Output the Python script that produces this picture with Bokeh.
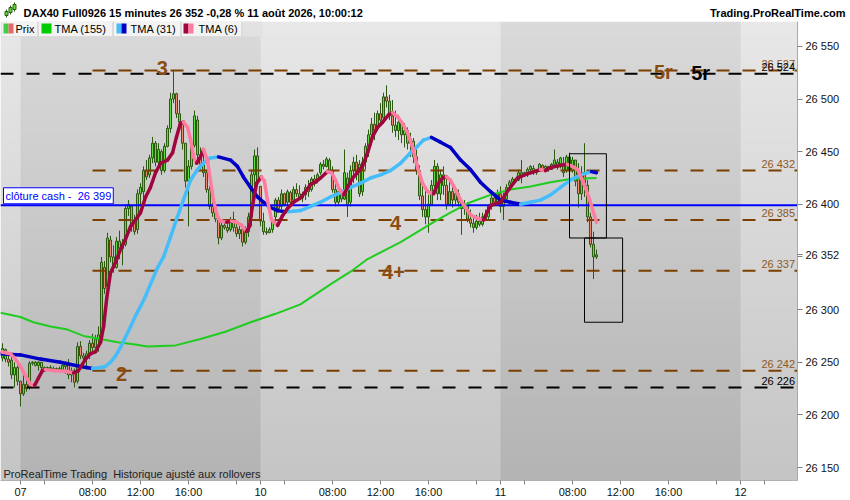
import numpy as np
from bokeh.plotting import figure
from bokeh.layouts import column
from bokeh.models import Range1d, FixedTicker, Label, BoxAnnotation
from bokeh.core.properties import value
from bokeh.embed import file_html
from bokeh.resources import INLINE

FONT = "Liberation Sans"

# 15 minute bars, bar 0 = Fri 07 Aug 02:00, one session = 80 bars
bar_start = -6
high = [26268, 26263, 26258, 26255, 26250, 26247,
        26232, 26240, 26236, 26251, 26251, 26251, 26251, 26250, 26246, 26246,
        26247, 26246, 26245, 26246, 26248, 26251, 26253, 26245, 26244, 26269,
        26270, 26259, 26261, 26271, 26277, 26276, 26284, 26350, 26346, 26373,
        26370, 26361, 26369, 26375, 26367, 26400, 26404, 26399, 26390, 26414,
        26420, 26436, 26442, 26447, 26464, 26460, 26458, 26452, 26458, 26475,
        26506, 26527, 26506, 26499, 26478, 26458, 26442, 26458, 26489, 26484,
        26454, 26449, 26433, 26417, 26404, 26398, 26387, 26385, 26383, 26385,
        26388, 26393, 26385, 26381, 26376, 26379, 26392, 26433, 26452, 26454,
        26417, 26392, 26378, 26378, 26385, 26406, 26407, 26414, 26411, 26414,
        26413, 26417, 26420, 26418, 26412, 26419, 26423, 26426, 26428, 26430,
        26440, 26442, 26445, 26444, 26436, 26423, 26419, 26414, 26452, 26430,
        26437, 26445, 26447, 26442, 26445, 26458, 26471, 26482, 26487, 26489,
        26496, 26506, 26513, 26504, 26499, 26489, 26485, 26480, 26477, 26473,
        26468, 26463, 26452, 26437, 26423, 26414, 26409, 26423, 26442, 26439,
        26433, 26436, 26428, 26423, 26419, 26416, 26414, 26404, 26404, 26402,
        26395, 26388, 26390, 26392, 26392, 26395, 26400, 26409, 26411, 26414,
        26417, 26411, 26419, 26423, 26426, 26425, 26433, 26442, 26431, 26435,
        26437, 26437, 26433, 26439, 26438, 26437, 26436, 26439, 26452, 26443,
        26445, 26445, 26447, 26449, 26445, 26442, 26439, 26436, 26458, 26423,
        26392, 26374, 26357]
low = [26251, 26250, 26246, 26234, 26226, 26228,
       26208, 26218, 26222, 26224, 26247, 26246, 26242, 26243, 26242, 26242,
       26243, 26242, 26241, 26242, 26242, 26239, 26234, 26231, 26226, 26230,
       26253, 26251, 26243, 26253, 26260, 26263, 26260, 26276, 26315, 26318,
       26345, 26335, 26339, 26348, 26342, 26360, 26389, 26374, 26371, 26372,
       26398, 26404, 26423, 26425, 26439, 26436, 26438, 26428, 26430, 26454,
       26468, 26496, 26482, 26473, 26452, 26416, 26379, 26433, 26454, 26442,
       26433, 26426, 26411, 26395, 26388, 26383, 26362, 26366, 26376, 26373,
       26374, 26374, 26369, 26367, 26360, 26362, 26369, 26379, 26411, 26417,
       26379, 26371, 26371, 26373, 26373, 26383, 26392, 26395, 26398, 26399,
       26398, 26401, 26407, 26405, 26402, 26404, 26407, 26412, 26417, 26420,
       26428, 26433, 26435, 26430, 26411, 26398, 26400, 26402, 26404, 26388,
       26398, 26420, 26423, 26407, 26408, 26433, 26445, 26456, 26461, 26470,
       26475, 26480, 26492, 26480, 26468, 26464, 26461, 26458, 26454, 26452,
       26445, 26439, 26428, 26404, 26388, 26381, 26373, 26400, 26414, 26404,
       26404, 26409, 26395, 26400, 26397, 26400, 26398, 26371, 26390, 26383,
       26378, 26373, 26376, 26379, 26379, 26384, 26385, 26395, 26398, 26400,
       26392, 26385, 26404, 26416, 26420, 26421, 26422, 26420, 26426, 26426,
       26430, 26428, 26428, 26431, 26433, 26431, 26431, 26433, 26436, 26433,
       26434, 26426, 26430, 26426, 26430, 26417, 26397, 26404, 26407, 26383,
       26359, 26329, 26348]
opn = [26254, 26262, 26253, 26252, 26238, 26245,
       26232, 26220, 26229, 26226, 26249, 26250, 26247, 26250, 26245, 26244,
       26245, 26244, 26243, 26244, 26243, 26246, 26249, 26238, 26242, 26232,
       26265, 26256, 26254, 26258, 26268, 26264, 26272, 26276, 26340, 26322,
       26366, 26350, 26340, 26365, 26358, 26362, 26396, 26398, 26382, 26376,
       26410, 26412, 26432, 26428, 26444, 26458, 26440, 26450, 26432, 26455,
       26472, 26500, 26505, 26486, 26476, 26458, 26422, 26436, 26456, 26480,
       26447, 26438, 26430, 26414, 26398, 26392, 26385, 26368, 26380, 26378,
       26376, 26385, 26378, 26372, 26376, 26364, 26374, 26388, 26428, 26446,
       26417, 26384, 26374, 26373, 26376, 26388, 26404, 26398, 26410, 26402,
       26411, 26404, 26414, 26410, 26406, 26409, 26416, 26414, 26424, 26422,
       26430, 26438, 26436, 26442, 26432, 26414, 26402, 26412, 26405, 26425,
       26402, 26432, 26440, 26438, 26412, 26440, 26455, 26466, 26476, 26472,
       26486, 26482, 26502, 26498, 26484, 26475, 26470, 26478, 26466, 26470,
       26458, 26460, 26445, 26432, 26408, 26395, 26388, 26400, 26418, 26436,
       26410, 26428, 26418, 26400, 26412, 26404, 26410, 26402, 26396, 26400,
       26386, 26382, 26378, 26384, 26381, 26388, 26388, 26398, 26406, 26402,
       26410, 26398, 26405, 26418, 26421, 26424, 26423, 26430, 26427, 26430,
       26433, 26434, 26430, 26433, 26437, 26434, 26436, 26433, 26438, 26440,
       26437, 26438, 26432, 26445, 26432, 26442, 26432, 26410, 26430, 26418,
       26388, 26362, 26350]
close = [26263, 26253, 26250, 26238, 26245, 26232,
         26220, 26229, 26225, 26249, 26250, 26247, 26250, 26245, 26244, 26245,
         26244, 26243, 26244, 26243, 26247, 26249, 26238, 26242, 26231, 26265,
         26256, 26254, 26258, 26268, 26264, 26272, 26276, 26345, 26320, 26368,
         26350, 26340, 26365, 26358, 26362, 26396, 26400, 26380, 26374, 26410,
         26416, 26432, 26426, 26444, 26458, 26440, 26452, 26432, 26455, 26472,
         26500, 26505, 26486, 26478, 26458, 26422, 26436, 26455, 26484, 26447,
         26438, 26430, 26414, 26398, 26392, 26386, 26368, 26380, 26378, 26375,
         26385, 26378, 26372, 26376, 26364, 26374, 26388, 26428, 26446, 26422,
         26384, 26374, 26373, 26376, 26384, 26404, 26396, 26410, 26400, 26412,
         26402, 26414, 26410, 26406, 26409, 26416, 26412, 26424, 26420, 26428,
         26438, 26436, 26443, 26432, 26414, 26402, 26412, 26405, 26430, 26400,
         26432, 26440, 26430, 26410, 26440, 26455, 26466, 26476, 26470, 26486,
         26480, 26502, 26498, 26484, 26475, 26470, 26478, 26466, 26470, 26458,
         26462, 26445, 26432, 26408, 26395, 26388, 26400, 26418, 26436, 26410,
         26428, 26418, 26400, 26412, 26404, 26410, 26402, 26396, 26400, 26386,
         26382, 26378, 26384, 26381, 26388, 26386, 26398, 26406, 26402, 26410,
         26398, 26405, 26416, 26421, 26424, 26422, 26430, 26426, 26430, 26433,
         26436, 26430, 26432, 26438, 26434, 26436, 26433, 26438, 26442, 26435,
         26444, 26430, 26445, 26432, 26442, 26422, 26410, 26430, 26418, 26388,
         26362, 26350, 26352]
bars = list(range(bar_start, bar_start + len(close)))

# indicators (bar position, value)
tma6_x = [-6.7, -3.3, -1.7, 0, 1.7, 3.3, 4.7, 6, 7.3, 8.3, 11.7, 15, 17.7, 19.3, 21.7, 23.3, 25,
          26.7, 27.7, 28.7, 30, 31.7, 33.3, 35, 36.7, 38.3, 40, 41.7, 43.3, 45, 46.7, 49, 50.7,
          52, 53.3, 54.3, 55.7, 56.7, 57.7, 58.7, 60, 61, 62.3, 63.3, 64.3, 65.7, 66.7, 68.7,
          70.3, 72, 73.7, 75.3, 76.3, 77.3, 78.7, 80.3, 81.3, 82.3, 83.7, 85.7, 87.3, 89, 91,
          93.3, 95, 96.7, 98.3, 100, 102.3, 103.7, 105, 106.3, 107.7, 109, 110.7, 112.3, 114,
          115.7, 117.3, 119, 120.7, 122.7, 124, 125.7, 127.3, 129, 130.7, 132.3, 134, 135.7,
          137.7, 139, 140.7, 142, 143.3, 145, 146.7, 148.3, 150, 152, 154.3, 156.7, 160, 162.7,
          165.7, 169, 173.3, 175, 176.7, 180, 182.3, 184, 185.7, 187.7, 189.3, 190.7, 192]
tma6_y = [26260, 26258, 26253, 26246, 26237, 26229, 26228, 26235, 26242, 26243, 26242, 26241.5,
          26240, 26242, 26253, 26258, 26260, 26269, 26284, 26310, 26335, 26345, 26357, 26367,
          26379, 26385, 26392, 26407, 26416, 26430, 26439, 26442, 26449, 26464, 26477, 26478,
          26473, 26461, 26445, 26439, 26445, 26452, 26442, 26423, 26404, 26388, 26384, 26383,
          26384, 26383, 26380, 26374, 26379, 26398, 26420, 26426, 26422, 26404, 26385, 26380,
          26389, 26396, 26402, 26406, 26412, 26419, 26421, 26425, 26431, 26430, 26423, 26414,
          26409, 26416, 26425, 26430, 26436, 26449, 26464, 26473, 26478, 26485, 26487, 26483,
          26477, 26468, 26454, 26436, 26420, 26412, 26410, 26419, 26425, 26426, 26423, 26414,
          26404, 26397, 26390, 26387, 26385, 26399, 26402, 26414, 26425, 26429, 26433, 26432,
          26435, 26437, 26438, 26436, 26433, 26420, 26408, 26395, 26383]
tma31_x = [-6.7, 0, 6.7, 13.3, 20, 24, 26.7, 28.3, 30, 31.7, 33.3, 35, 36.7, 38.3, 40, 41.7,
           43.3, 45.7, 47.7, 50, 52.3, 54.3, 56.7, 59, 61, 63.3, 66, 70, 72.3, 74.3, 76.7, 79,
           81, 83.3, 85.7, 88.3, 91, 93.3, 96.7, 100, 103.3, 106.7, 110, 113.3, 116.7, 120,
           123.3, 126.7, 130, 132.3, 134.3, 137, 140, 143.3, 146.7, 150, 153.3, 156.7, 160,
           163.3, 166.7, 170, 173.3, 176.7, 180, 183.3, 186.7, 190.3, 192]
tma31_y = [26258, 26257, 26253, 26250, 26246, 26244, 26245, 26246, 26250, 26256, 26264, 26274,
           26284, 26294, 26303, 26313, 26324, 26340, 26350, 26369, 26388, 26404, 26423, 26433,
           26439, 26444, 26445, 26442, 26436, 26426, 26416, 26407, 26402, 26397, 26394, 26393,
           26393.5, 26394, 26398, 26402, 26407, 26411, 26416, 26420, 26425, 26428, 26432,
           26439, 26449, 26455, 26461, 26463.5, 26459, 26454, 26442, 26433, 26421, 26412,
           26404, 26402, 26400, 26402, 26404, 26409, 26416, 26423, 26428, 26431, 26430]
tma155_x = [-6.7, 0, 4.3, 10, 15.7, 21, 26.7, 32.3, 37.7, 42.3, 51.7, 60, 68.3, 76.7, 85, 93.3,
            103.3, 110, 115.7, 126.7, 137.7, 143.3, 150, 156.7, 163.3, 170, 176.7, 183.3, 192]
tma155_y = [26297, 26293, 26288, 26284, 26281, 26275, 26272, 26269, 26267, 26265, 26266, 26272,
            26279, 26288, 26296, 26305, 26324, 26336, 26348, 26364, 26383, 26392, 26402, 26409,
            26414, 26417, 26421, 26424, 26425]

levels_brown = [26527, 26432, 26385, 26337, 26242]
levels_black = [26524, 26226]
brown_from = 24
cash_close = 26399
last_price = 26352

wave_text = ["3", "2", "4", "4+", "5r", "5r"]
wave_x = [47.3, 33.7, 125, 124.3, 214.3, 226.7]
wave_y = [26529, 26239, 26382, 26336, 26526, 26525]

rect_left = [183, 188]
rect_right = [195.3, 200.7]
rect_top = [26448, 26368]
rect_bottom = [26368, 26288]

day_start = [0, 80, 160, 240]
day_names = ["07", "10", "11", "12"]
y_ticks = list(range(26150, 26551, 50))

X0, X1 = -6.67, 259.0
Y0, Y1 = 26137.7, 26573.6
FW, FH = 797, 461
W = 850
HEAD = 21

BROWN = "#7b3f00"
BROWN_TXT = "#8b4c11"
WICK = "#2b5a10"


def fmt(v):
    return f"{int(v):,}".replace(",", " ")


# header strip above the chart
head = figure(width=W, height=HEAD, x_range=Range1d(0, W), y_range=Range1d(0, HEAD),
              output_backend="svg", toolbar_location=None, title=None,
              x_axis_location=None, y_axis_location=None,
              min_border_left=0, min_border_right=0, min_border_top=0, min_border_bottom=0,
              outline_line_color=None, border_fill_color="white", background_fill_color="white")
head.frame_align = False
head.grid.visible = False
head.segment(x0=[6, 10, 14], x1=[6, 10, 14], y0=[4, 7, 10], y1=[12, 16, 19],
             line_color="#2b5a10", line_width=1)
head.quad(left=[4.5, 8.5, 12.5], right=[7.5, 11.5, 15.5], bottom=[6, 9, 12], top=[10, 14, 17],
          fill_color="#5fdc3c", line_color="#2b5a10", line_width=1)
head.text(x=[23], y=[9], text=["DAX40 Full0926 15 minutes 26 352 -0,28 % 11 août 2026, 10:00:12"],
          text_baseline="middle", text_font=value(FONT), text_font_size="11px",
          text_font_style="bold", text_color="black")
head.text(x=[W - 5], y=[9], text=["Trading.ProRealTime.com"], text_align="right",
          text_baseline="middle", text_font=value(FONT), text_font_size="11px",
          text_font_style="bold", text_color="black")

p = figure(width=W, height=FH + 18, x_range=Range1d(X0, X1), y_range=Range1d(Y0, Y1),
           output_backend="svg", toolbar_location=None, y_axis_location="right", title=None,
           min_border_left=0, min_border_right=W - FW, min_border_top=0, min_border_bottom=18,
           border_fill_color="white", outline_line_color=None)
p.frame_align = False
p.grid.visible = False

# background: alternating sessions, vertical gradient
rows, cols = 120, FW
img = np.zeros((rows, cols), dtype=np.uint32)
rgba = img.view(dtype=np.uint8).reshape((rows, cols, 4))
bx = X0 + (np.arange(cols) + 0.5) * (X1 - X0) / cols
dark = (np.floor(bx / 80) % 2 == 0)
t = np.arange(rows) / (rows - 1)
g_dark = 180 + (218 - 180) * t
g_light = 197 + (232 - 197) * t
gray = np.where(dark[None, :], g_dark[:, None], g_light[:, None]).astype(np.uint8)
rgba[..., 0] = gray
rgba[..., 1] = gray
rgba[..., 2] = gray
rgba[..., 3] = 255
p.image_rgba(image=[img], x=X0, y=Y0, dw=X1 - X0, dh=Y1 - Y0, level="image")

# candles
o = np.array(opn)
c = np.array(close)
up = c >= o
p.segment(x0=bars, y0=low, x1=bars, y1=high, line_color=WICK, line_width=1)
p.vbar(x=bars, width=0.68, top=np.maximum(o, c), bottom=np.minimum(o, c),
       fill_color=np.where(up, "#5fdc3c", "#ee8a70").tolist(), line_color=WICK, line_width=1)

# horizontal levels
p.segment(x0=[brown_from] * len(levels_brown), x1=[X1] * len(levels_brown), y0=levels_brown,
          y1=levels_brown, line_color=BROWN, line_width=2, line_dash="13 13")
p.segment(x0=[X0] * len(levels_black), x1=[X1] * len(levels_black), y0=levels_black,
          y1=levels_black, line_color="black", line_width=2, line_dash="13 13")
p.segment(x0=[X0], x1=[X1], y0=[cash_close], y1=[cash_close], line_color="#0000ff", line_width=2)

lvl_txt = dict(text_align="right", text_baseline="bottom", y_offset=-1,
               text_font=value(FONT), text_font_size="11px")
p.text(x=[X1 - 0.8] * len(levels_brown), y=levels_brown, text=[fmt(v) for v in levels_brown],
       text_color="#8f5a24", **lvl_txt)
p.text(x=[X1 - 0.8] * len(levels_black), y=levels_black, text=[fmt(v) for v in levels_black],
       text_color="black", **lvl_txt)


def two_tone(xs, ys, up_col, down_col, width):
    xs = np.array(xs)
    ys = np.array(ys)
    rising = np.diff(ys) >= 0
    p.segment(x0=xs[:-1], y0=ys[:-1], x1=xs[1:], y1=ys[1:],
              line_color=np.where(rising, up_col, down_col).tolist(),
              line_width=width, line_cap="round")


p.line(tma155_x, tma155_y, line_color="#1fcc1f", line_width=2)
two_tone(tma31_x, tma31_y, "#45bdfa", "#0000c4", 3.5)
two_tone(tma6_x, tma6_y, "#a0063e", "#ff7ba0", 3.5)

# drawn boxes
p.quad(left=rect_left, right=rect_right, top=rect_top, bottom=rect_bottom,
       fill_alpha=0, line_color="black", line_width=1)

# wave counts
p.text(x=wave_x, y=wave_y, text=wave_text, text_align="center", text_baseline="middle",
       text_font=value(FONT), text_font_size="20px", text_font_style="bold",
       text_color=[BROWN_TXT] * 5 + ["black"])

# axes
xt = []
xo = {}
for d, name in zip(day_start, day_names):
    for off, lab in [(0, name), (8, ""), (24, "08:00"), (40, "12:00"), (56, "16:00"), (72, "")]:
        xt.append(d + off)
        xo[d + off] = lab
xa = p.xaxis[0]
xa.ticker = FixedTicker(ticks=xt)
xa.major_label_overrides = xo
xa.major_label_text_font = FONT
xa.major_label_text_font_size = "11px"
xa.major_label_text_color = "#111111"
xa.major_label_standoff = 1
xa.major_tick_in = 0
xa.major_tick_out = 4
xa.minor_tick_line_color = None
xa.axis_line_color = "#b0b0b0"
xa.major_tick_line_color = "#808080"

# the last price sits over the 26 350 tick, as on the terminal
y_labels = {v: fmt(v) for v in y_ticks}
y_labels[26350] = ""
y_labels[last_price] = fmt(last_price)
ya = p.yaxis[0]
ya.ticker = FixedTicker(ticks=y_ticks + [last_price])
ya.major_label_overrides = y_labels
ya.major_label_text_font = FONT
ya.major_label_text_font_size = "11px"
ya.major_label_text_color = "#111111"
ya.major_label_standoff = 3
ya.major_tick_in = 0
ya.major_tick_out = 5
ya.minor_tick_line_color = None
ya.axis_line_color = "#a8a8a8"
ya.major_tick_line_color = "#808080"


def label(text, x, y, xu="screen", yu="screen", size=11, bold=False, color="black",
          align="left", baseline="middle", **kw):
    p.add_layout(Label(text=text, x=x, y=y, x_units=xu, y_units=yu, text_font=FONT,
                       text_font_size=f"{size}px", text_font_style="bold" if bold else "normal",
                       text_color=color, text_align=align, text_baseline=baseline, **kw))


label("clôture cash -\u00a0 " + fmt(cash_close), 3, cash_close + 1.5, yu="data",
      color="#0000ff", baseline="bottom", background_fill_color="white",
      border_line_color="#0000ff", padding=2)
label("ProRealTime Trading \u00a0Historique ajusté aux rollovers", 3, 7, color="#222222")

# indicator legend strip
legend_boxes = [(1, 37), (38, 112), (113, 180), (181, 241)]
for left, right in legend_boxes:
    p.add_layout(BoxAnnotation(left=left, right=right, top=FH - 1, bottom=FH - 17,
                               left_units="screen", right_units="screen", top_units="screen",
                               bottom_units="screen", fill_color="#f3f3f3", fill_alpha=1,
                               line_color="#c4c4c4", line_width=1))
p.add_layout(BoxAnnotation(left=242, right=262, top=FH - 1, bottom=FH - 17, left_units="screen",
                           right_units="screen", top_units="screen", bottom_units="screen",
                           fill_color="#e2e2e2", fill_alpha=1, line_color=None))
swatches = [(3, 8, "#44cc44"), (8, 13, "#e06a6a"), (41, 51, "#00cc00"), (116, 121, "#45bdfa"),
            (121, 126, "#0000c4"), (183, 188, "#a0063e"), (188, 193, "#ff7ba0")]
for left, right, col in swatches:
    p.add_layout(BoxAnnotation(left=left, right=right, top=FH - 4, bottom=FH - 14,
                               left_units="screen", right_units="screen", top_units="screen",
                               bottom_units="screen", fill_color=col, fill_alpha=1,
                               line_color=None))
for text, x in [("Prix", 15), ("TMA (155)", 54), ("TMA (31)", 130), ("TMA (6)", 198)]:
    label(text, x, FH - 9)

open("out.html", "w").write(file_html(column(head, p, spacing=0), INLINE))
